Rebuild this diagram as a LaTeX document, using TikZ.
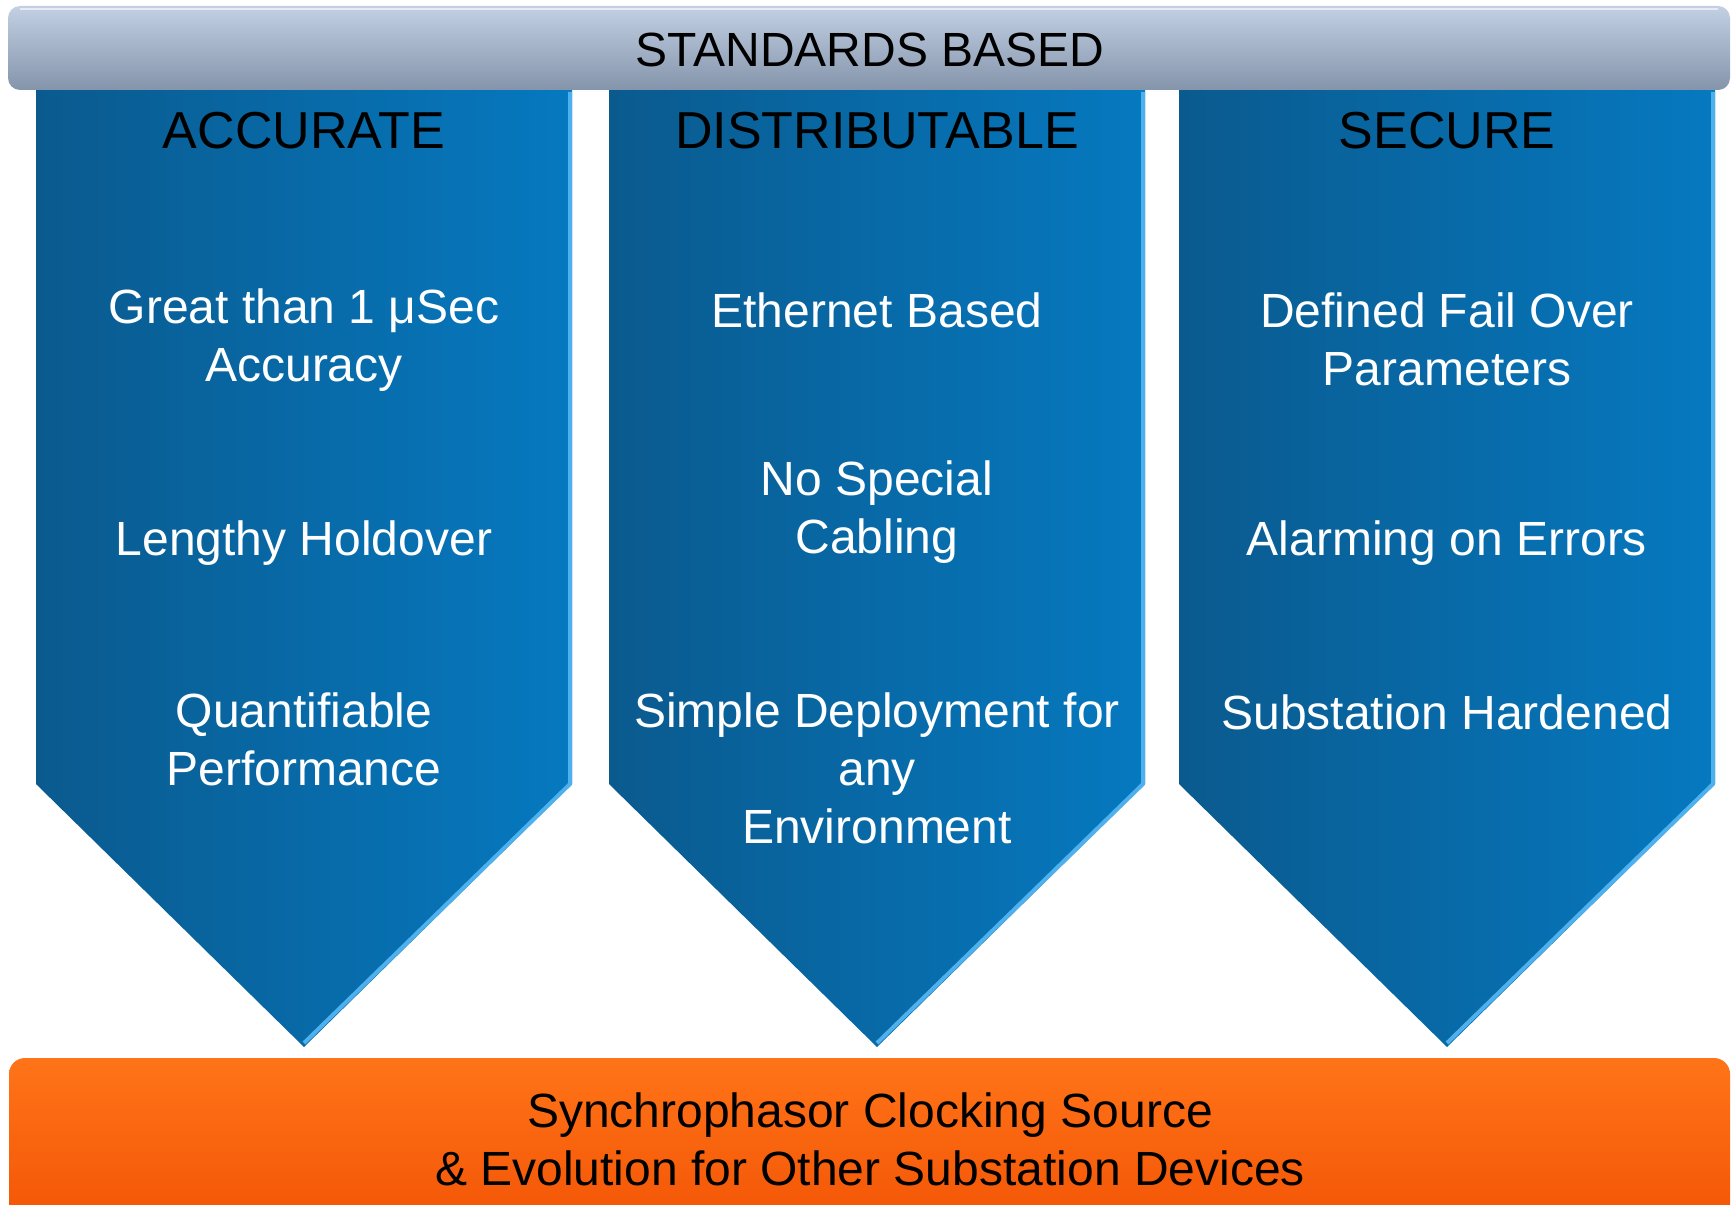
\documentclass[tikz,border=0pt]{standalone}
\usepackage{fontspec}
\setmainfont{Liberation Sans}
\definecolor{pillardark}{HTML}{0A5A8E}
\definecolor{pillarlight}{HTML}{0679C0}
\definecolor{pillaredge}{HTML}{4FB0EE}
\definecolor{bartop}{HTML}{C3D0E4}
\definecolor{barbot}{HTML}{8494AA}
\definecolor{basetop}{HTML}{FF7418}
\definecolor{basebot}{HTML}{F25204}
\tikzset{
  title/.style={font=\fontsize{24}{29}\selectfont, text=black},
  head/.style={font=\fontsize{26}{30}\selectfont, text=black},
  item/.style={font=\fontsize{24}{29}\selectfont, text=white, align=center},
  base/.style={font=\fontsize{24}{29}\selectfont, text=black, align=center}
}
\begin{document}
\begin{tikzpicture}[x=0.5pt,y=-0.5pt]
\useasboundingbox (0,0) rectangle (1732,1204);
% the three pillars
\foreach \cx in {304,877,1447}{
  \shade[left color=pillardark, right color=pillarlight]
    (\cx-268,88) -- (\cx+268,88) -- (\cx+268,784) -- (\cx,1047) -- (\cx-268,784) -- cycle;
  \draw[pillaredge, line width=2pt, line join=round]
    (\cx+266,92) -- (\cx+266,784) -- (\cx,1043);
}
% top bar
\shade[top color=bartop, bottom color=barbot, rounded corners=6] (8,6) rectangle (1730,90);
\draw[white, opacity=0.6, line width=1pt] (20,9) -- (1718,9);
\node[title] (std) at (870,50) {STANDARDS BASED};
% bottom bar
\shade[top color=basetop, bottom color=basebot, rounded corners=8] (9,1058) rectangle (1730,1240);
\node[base] (src) at (870,1139) {Synchrophasor Clocking Source\\\& Evolution for Other Substation Devices};
% headings
\node[head] (acc) at (304,131) {ACCURATE};
\node[head] (dist) at (877,131) {DISTRIBUTABLE};
\node[head] (sec) at (1447,131) {SECURE};
% accurate
\node[item] (acc1) at (304,340) {Great than 1 μSec\\Accuracy};
\node[item] (acc2) at (304,543) {Lengthy Holdover};
\node[item] (acc3) at (304,739) {Quantifiable\\Performance};
% distributable
\node[item] (dist1) at (877,310) {Ethernet Based};
\node[item] (dist2) at (877,512) {No Special\\Cabling};
\node[item] (dist3) at (877,768) {Simple Deployment for\\any\\Environment};
% secure
\node[item] (sec1) at (1447,339) {Defined Fail Over\\Parameters};
\node[item] (sec2) at (1447,543) {Alarming on Errors};
\node[item] (sec3) at (1447,712) {Substation Hardened};
\end{tikzpicture}
\end{document}
